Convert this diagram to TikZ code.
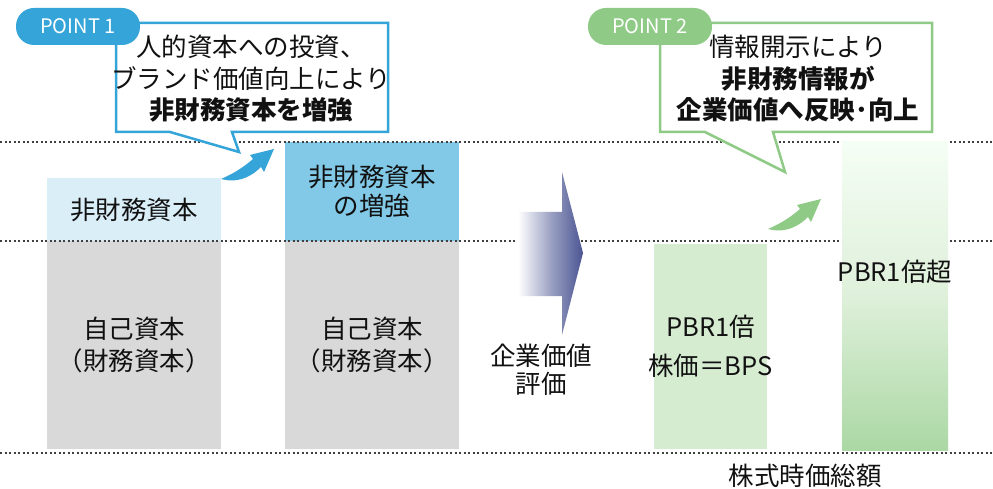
\documentclass[tikz,border=0pt]{standalone}
\usepackage{fontspec}
\newfontfamily\cjk{Noto Sans CJK JP}
\usetikzlibrary{shapes.geometric}
\definecolor{pblue}{HTML}{35A4D8}
\definecolor{pgreen}{HTML}{8FCB86}
\definecolor{lblue}{HTML}{DAEEF8}
\definecolor{mblue}{HTML}{82C9E7}
\definecolor{lgray}{HTML}{D9D9D9}
\definecolor{lgreen}{HTML}{D6ECD1}
\definecolor{navy}{HTML}{4B5592}
\definecolor{txt}{HTML}{111111}
\tikzset{
  jp/.style={font=\cjk\fontsize{25.5}{31.5}\selectfont, text=txt, align=center, inner sep=0pt},
  box/.style={jp, draw=none, minimum width=174, minimum height=#1},
  dotline/.style={draw=black!75, line width=2.4, dash pattern=on 2.4 off 2.1},
  callout/.style={fill=white, line width=2.5, line join=miter},
  pill/.style={rounded corners=18, text=white, font=\cjk\fontsize{20}{22}\selectfont, inner sep=0pt, minimum width=124, minimum height=37},
  curvearrow/.pic={
    \fill (0,0) .. controls (14,-6) and (24,-13) .. (32,-20) -- (29,-24) -- (53,-30)
      -- (43,-7) -- (40,-12) .. controls (28,0) and (14,4) .. (0,0) -- cycle;
  }
}
\begin{document}
\begin{tikzpicture}[x=1pt,y=-1pt]
\useasboundingbox (0,0) rectangle (993,489);
\fill[white] (0,0) rectangle (993,489);

% left boxes
\node[box=63, fill=lblue] (nf1) at (134,209.5) {非財務資本};
\node[box=208, fill=lgray] (own1) at (134,345) {自己資本\\[1pt]（財務資本）};
\node[box=99, fill=mblue] (nf2) at (372,191.5) {非財務資本\\[-2pt]の増強};
\node[box=208, fill=lgray] (own2) at (372,345) {自己資本\\[1pt]（財務資本）};

% dotted lines
\coordinate (l1a) at (0,142); \coordinate (l1b) at (993,142);
\coordinate (l2a) at (0,241); \coordinate (l2b) at (993,241);
\coordinate (l3a) at (0,453); \coordinate (l3b) at (993,453);
\draw[dotline] (l1a) -- (l1b);
\draw[dotline] (l2a) -- (l2b);
\draw[dotline] (l3a) -- (l3b);

% evaluation arrow
\shade[left color=white, right color=navy, middle color=navy!55]
  (518,212) -- (562,212) -- (562,172) -- (583,253) -- (562,335) -- (562,296) -- (518,296) -- cycle;
\node[jp] (eval) at (541,370) {企業価値\\[-4pt]評価};

% green boxes
\fill[lgreen] (654,244) rectangle (767,449);
\node[jp] (pbr1) at (710.5,346.5) {PBR1倍\\[8pt]株価＝BPS};
\shade[top color=green!40!lgreen!8, bottom color=pgreen!75, middle color=lgreen!80] (842,142) rectangle (948,450);
\node[jp] (pbr2) at (895,272) {PBR1倍超};
\node[jp] (cap) at (805,476) {株式時価総額};

% callout 1
\draw[callout, draw=pblue] (116,23) -- (388,23) -- (388,132) -- (232,132) -- (239,152) -- (170,132) -- (116,132) -- cycle;
\node[jp] (c1) at (251,79) {人的資本への投資、\\ブランド価値向上により\\\textbf{非財務資本を増強}};
\node[pill, fill=pblue] (p1) at (78,26.5) {POINT 1};

% callout 2
\draw[callout, draw=pgreen] (660,23) -- (932,23) -- (932,132) -- (773,132) -- (785,172) -- (705,132) -- (660,132) -- cycle;
\node[jp] (c2) at (798,79) {情報開示により\\\textbf{非財務情報が}\\\textbf{企業価値へ反映･向上}};
\node[pill, fill=pgreen] (p2) at (650,26.5) {POINT 2};

% curved arrows
\pic[fill=pblue] at (221,179) {curvearrow};
\pic[fill=pgreen] at (768,229) {curvearrow};
\end{tikzpicture}
\end{document}
